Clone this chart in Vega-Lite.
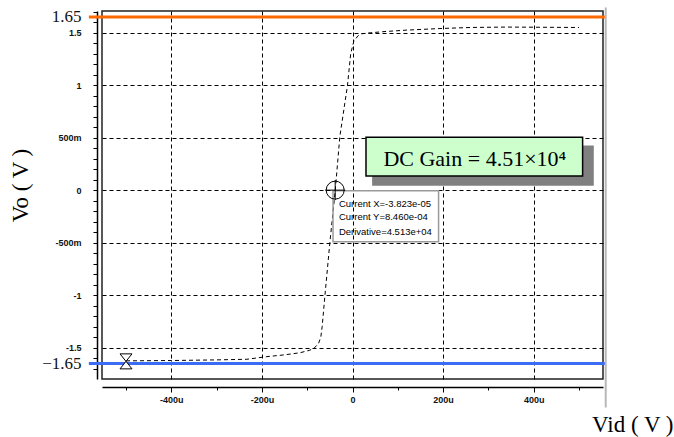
{
  "$schema": "https://vega.github.io/schema/vega-lite/v6.json",
  "width": 501,
  "height": 368,
  "autosize": "none",
  "padding": {"left": 102, "top": 11, "right": 71, "bottom": 58},
  "background": "white",
  "config": {
    "view": {"stroke": "#222", "strokeWidth": 1.5},
    "font": "Liberation Sans"
  },
  "datasets": {
    "curve": [
      {"x": -500, "y": -1.625}, {"x": -400, "y": -1.622}, {"x": -300, "y": -1.616},
      {"x": -233, "y": -1.61}, {"x": -189, "y": -1.585}, {"x": -150, "y": -1.568},
      {"x": -116, "y": -1.548}, {"x": -95, "y": -1.525}, {"x": -85, "y": -1.505},
      {"x": -75, "y": -1.46}, {"x": -70, "y": -1.4}, {"x": -67, "y": -1.3},
      {"x": -61, "y": -1.01}, {"x": -50, "y": -0.5}, {"x": -38, "y": 0.0},
      {"x": -28, "y": 0.51}, {"x": -11, "y": 1.0}, {"x": -4, "y": 1.3},
      {"x": 3, "y": 1.42}, {"x": 12, "y": 1.47}, {"x": 20, "y": 1.49},
      {"x": 34, "y": 1.497}, {"x": 67, "y": 1.51}, {"x": 120, "y": 1.525},
      {"x": 193, "y": 1.54}, {"x": 260, "y": 1.55}, {"x": 340, "y": 1.554},
      {"x": 420, "y": 1.552}, {"x": 500, "y": 1.55}
    ],
    "rails": [
      {"y": 1.65, "x": -582, "x2": 557, "rail": "VDD"},
      {"y": -1.65, "x": -582, "x2": 557, "rail": "VSS"}
    ],
    "edge": [{"x": 559, "y": 1.74, "y2": -2.07}],
    "gainbox": [
      {"x": 45, "x2": 531, "y": 0.42, "y2": 0.05, "part": "shadow"},
      {"x": 29.8, "x2": 508, "y": 0.504, "y2": 0.135, "part": "box"}
    ],
    "gaintext": [{"x": 270, "y": 0.3, "label": "DC Gain = 4.51×10⁴"}],
    "cursorbox": [{"x": -43, "x2": 190, "y": -0.005, "y2": -0.49}],
    "cursortext": [
      {"x": -30, "y": -0.131, "label": "Current X=-3.823e-05"},
      {"x": -30, "y": -0.255, "label": "Current Y=8.460e-04"},
      {"x": -30, "y": -0.398, "label": "Derivative=4.513e+04"}
    ],
    "cursor": [{"x": -38.23, "y": 0.000846}],
    "start": [{"x": -500, "y": -1.63}]
  },
  "encoding": {
    "x": {
      "field": "x", "type": "quantitative",
      "scale": {"domain": [-553, 553], "nice": false, "zero": false},
      "axis": {
        "title": "Vid ( V )",
        "titleFont": "Liberation Serif", "titleFontSize": 23, "titleFontWeight": "normal", "titleColor": "black",
        "titleAnchor": "end", "titleAlign": "right", "titleBaseline": "alphabetic",
        "titleX": 571, "titleY": 44,
        "offset": 8,
        "values": [-500, -400, -300, -200, -100, 0, 100, 200, 300, 400, 500],
        "labelExpr": "datum.value % 200 == 0 ? (datum.value == 0 ? '0' : datum.value + 'u') : ''",
        "labelFontSize": 9, "labelFontWeight": "bold", "labelColor": "#111", "labelPadding": 3, "labelOverlap": false, "labelFlush": false,
        "domainColor": "black", "domainWidth": 1.5,
        "tickColor": "black",
        "tickSize": {"condition": {"test": "datum.value % 200 == 0", "value": 5}, "value": 3},
        "grid": true, "gridColor": "black", "gridDash": [4, 3], "gridWidth": 1,
        "gridOpacity": {"condition": {"test": "datum.value % 200 == 0", "value": 1}, "value": 0}
      }
    },
    "y": {
      "field": "y", "type": "quantitative",
      "scale": {"domain": [-1.798, 1.707], "nice": false, "zero": false},
      "axis": {
        "title": "Vo ( V )",
        "titleFont": "Liberation Serif", "titleFontSize": 23, "titleFontWeight": "normal", "titleColor": "black",
        "titleX": -77, "titleY": 174, "titleBaseline": "middle", "titleAngle": 270,
        "offset": 5,
        "values": [-1.7, -1.65, -1.6, -1.5, -1.4, -1.3, -1.2, -1.1, -1.0, -0.9, -0.8, -0.7, -0.6, -0.5, -0.4, -0.3, -0.2, -0.1, 0, 0.1, 0.2, 0.3, 0.4, 0.5, 0.6, 0.7, 0.8, 0.9, 1.0, 1.1, 1.2, 1.3, 1.4, 1.5, 1.6, 1.65, 1.7],
        "labelExpr": "abs(abs(datum.value) - 1.65) < 0.001 ? format(datum.value, '.2f') : (abs(datum.value * 2 - round(datum.value * 2)) < 0.001 ? (datum.value == 0 ? '0' : (abs(datum.value) == 0.5 ? (datum.value < 0 ? '-500m' : '500m') : datum.value + '')) : '')",
        "labelFont": {"condition": {"test": "abs(abs(datum.value) - 1.65) < 0.001", "value": "Liberation Serif"}, "value": "Liberation Sans"},
        "labelFontSize": {"condition": {"test": "abs(abs(datum.value) - 1.65) < 0.001", "value": 17}, "value": 9},
        "labelFontWeight": {"condition": {"test": "abs(abs(datum.value) - 1.65) < 0.001", "value": "normal"}, "value": "bold"},
        "labelColor": "#111", "labelPadding": 12, "labelOverlap": false, "labelFlush": false, "labelBound": false,
        "domainColor": "black", "domainWidth": 1.5,
        "tickColor": "black", "tickSize": 4,
        "tickOpacity": {"condition": {"test": "abs(abs(datum.value) - 1.65) < 0.001", "value": 0}, "value": 1},
        "grid": true, "gridColor": "black", "gridDash": [4, 3], "gridWidth": 1,
        "gridOpacity": {"condition": {"test": "abs(datum.value * 2 - round(datum.value * 2)) < 0.001", "value": 1}, "value": 0}
      }
    }
  },
  "layer": [
    {
      "data": {"name": "curve"},
      "mark": {"type": "line", "color": "black", "strokeWidth": 1, "strokeDash": [4, 3], "clip": true}
    },
    {
      "data": {"name": "edge"},
      "mark": {"type": "rule", "strokeWidth": 2, "color": "#b8b8b8", "clip": false},
      "encoding": {"y2": {"field": "y2"}}
    },
    {
      "data": {"name": "rails"},
      "mark": {"type": "rule", "strokeWidth": 3, "clip": false},
      "encoding": {
        "x2": {"field": "x2"},
        "color": {"field": "rail", "type": "nominal", "scale": {"domain": ["VDD", "VSS"], "range": ["#ff6a00", "#3a6cf4"]}, "legend": null}
      }
    },
    {
      "data": {"name": "gainbox"},
      "mark": {"type": "rect", "clip": false, "strokeWidth": 1.5},
      "encoding": {
        "x2": {"field": "x2"},
        "y2": {"field": "y2"},
        "fill": {"field": "part", "type": "nominal", "scale": {"domain": ["shadow", "box"], "range": ["#808080", "#ccffcc"]}, "legend": null},
        "stroke": {"field": "part", "type": "nominal", "scale": {"domain": ["shadow", "box"], "range": ["#808080", "#000000"]}, "legend": null}
      }
    },
    {
      "data": {"name": "gaintext"},
      "mark": {"type": "text", "font": "Liberation Serif", "fontSize": 22, "color": "black", "align": "center", "baseline": "middle"},
      "encoding": {"text": {"field": "label"}}
    },
    {
      "data": {"name": "cursorbox"},
      "mark": {"type": "rect", "fill": "white", "fillOpacity": 0, "stroke": "#9a9a9a", "strokeWidth": 1.5},
      "encoding": {"x2": {"field": "x2"}, "y2": {"field": "y2"}}
    },
    {
      "data": {"name": "cursortext"},
      "mark": {"type": "text", "font": "Liberation Sans", "fontSize": 9.5, "color": "black", "align": "left", "baseline": "middle"},
      "encoding": {"text": {"field": "label"}}
    },
    {
      "data": {"name": "cursor"},
      "mark": {"type": "point", "shape": "circle", "size": 324, "filled": false, "stroke": "black", "strokeWidth": 1, "opacity": 1}
    },
    {
      "data": {"name": "cursor"},
      "mark": {"type": "point", "shape": "M-1,0L1,0M0,-1L0,1", "size": 400, "filled": false, "stroke": "black", "strokeWidth": 1, "opacity": 1}
    },
    {
      "data": {"name": "start"},
      "mark": {"type": "point", "shape": "M-0.8,-1L0.8,-1L-0.8,1L0.8,1Z", "size": 225, "filled": true, "fill": "white", "stroke": "black", "strokeWidth": 1, "opacity": 1}
    }
  ]
}
